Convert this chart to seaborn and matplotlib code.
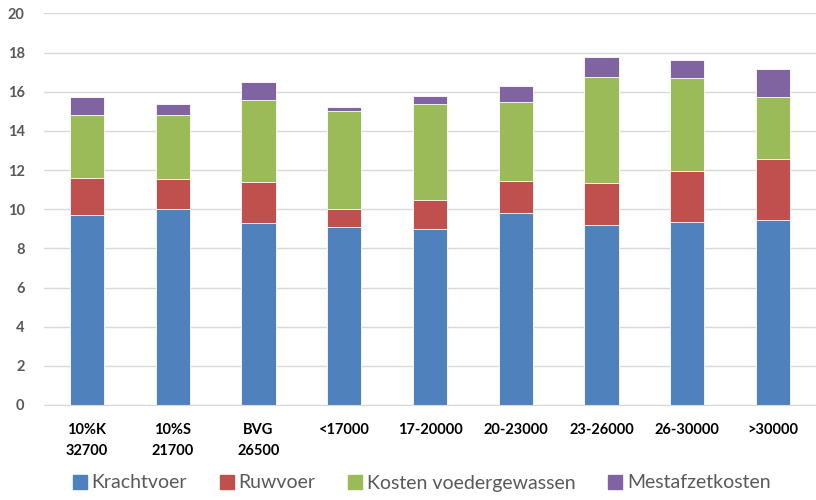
import matplotlib
matplotlib.use("Agg")
import matplotlib.pyplot as plt
import numpy as np
import pandas as pd
import seaborn as sns
from matplotlib.lines import Line2D

# Data
categorieen = ["10%K\n32700", "10%S\n21700", "BVG\n26500", "<17000", "17-20000",
               "20-23000", "23-26000", "26-30000", ">30000"]
krachtvoer = [9.69, 9.99, 9.31, 9.09, 9.00, 9.82, 9.17, 9.33, 9.45]
ruwvoer = [1.92, 1.58, 2.09, 0.94, 1.45, 1.64, 2.18, 2.62, 3.11]
voedergewassen = [3.20, 3.27, 4.19, 5.00, 4.92, 4.03, 5.43, 4.75, 3.17]
mestafzet = [0.90, 0.55, 0.90, 0.19, 0.39, 0.82, 1.02, 0.95, 1.41]

reeksen = ["Krachtvoer", "Ruwvoer", "Kosten voedergewassen", "Mestafzetkosten"]
kleuren = ["#4f81bd", "#c0504d", "#9bbb59", "#8064a2"]

sns.set_style("white")
plt.rcParams["font.family"] = ["Lato", "DejaVu Sans"]

df = pd.DataFrame({"cat": categorieen})
waarden = [krachtvoer, ruwvoer, voedergewassen, mestafzet]
cum = np.cumsum(np.array(waarden), axis=0)

fig = plt.figure(figsize=(8.16, 5), dpi=100)
ax = fig.add_axes([0.054, 0.19, 0.946, 0.783])

# Stapelen door cumulatieve totalen van boven naar beneden te tekenen
for i in range(len(reeksen) - 1, -1, -1):
    df["y"] = cum[i]
    sns.barplot(data=df, x="cat", y="y", color=kleuren[i], width=0.4,
                saturation=1, edgecolor="white", linewidth=0.6, ax=ax, zorder=2)

ax.set_ylim(0, 20)
ax.set_xlim(-0.5, 8.5)
ax.set_yticks(range(0, 21, 2))
ax.yaxis.grid(True, color="#d9d9d9", linewidth=1, zorder=0)
ax.set_axisbelow(True)
for s in ["top", "right", "left"]:
    ax.spines[s].set_visible(False)
ax.spines["bottom"].set_color("#d9d9d9")
ax.set_xlabel("")
ax.set_ylabel("")
ax.tick_params(axis="y", length=0, pad=14, labelsize=10.5, labelcolor="#595959")
ax.tick_params(axis="x", length=0, pad=13, labelsize=10.5, labelcolor="black")
for lbl in ax.get_yticklabels():
    lbl.set_fontweight("bold")
for lbl in ax.get_xticklabels():
    lbl.set_fontweight("bold")
    lbl.set_linespacing(1.6)

handles = [Line2D([0], [0], marker="s", linestyle="", markersize=9.5,
                  markerfacecolor=k, markeredgecolor=k) for k in kleuren]
fig.legend(handles, reeksen, loc="center", bbox_to_anchor=(0.517, 0.034), ncol=4,
           frameon=False, fontsize=14, labelcolor="#595959", handlelength=0.7,
           handletextpad=0.25, columnspacing=1.7)

fig.savefig("out.png", dpi=100)
